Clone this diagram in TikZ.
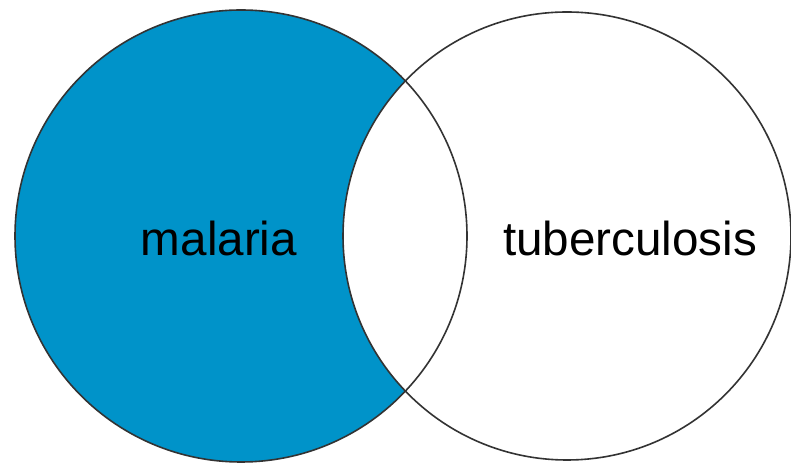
\documentclass[tikz,border=0pt]{standalone}
\usepackage{fontspec}
\setmainfont{Liberation Sans}
\usetikzlibrary{positioning}
\definecolor{malblue}{HTML}{0093C9}
\definecolor{vennline}{HTML}{333333}

\begin{document}
\begin{tikzpicture}[
  x=1pt, y=1pt,
  ring/.style={draw=vennline, line width=1.6pt},
  lbl/.style={font=\fontsize{47.6}{57}\selectfont, text=black, inner sep=0pt}
]
\useasboundingbox (0,0) rectangle (791,465);

% the two sets
\coordinate (malc) at (241,229);
\coordinate (tbc) at (567,229);

\fill[malblue] (malc) circle[radius=226];
\fill[white] (tbc) circle[radius=224];
\draw[ring] (malc) circle[radius=226];
\draw[ring] (tbc) circle[radius=224];

\node[lbl] (mal) at (219,227) {malaria};
\node[lbl] (tb) at (630,227) {tuberculosis};

\end{tikzpicture}
\end{document}
